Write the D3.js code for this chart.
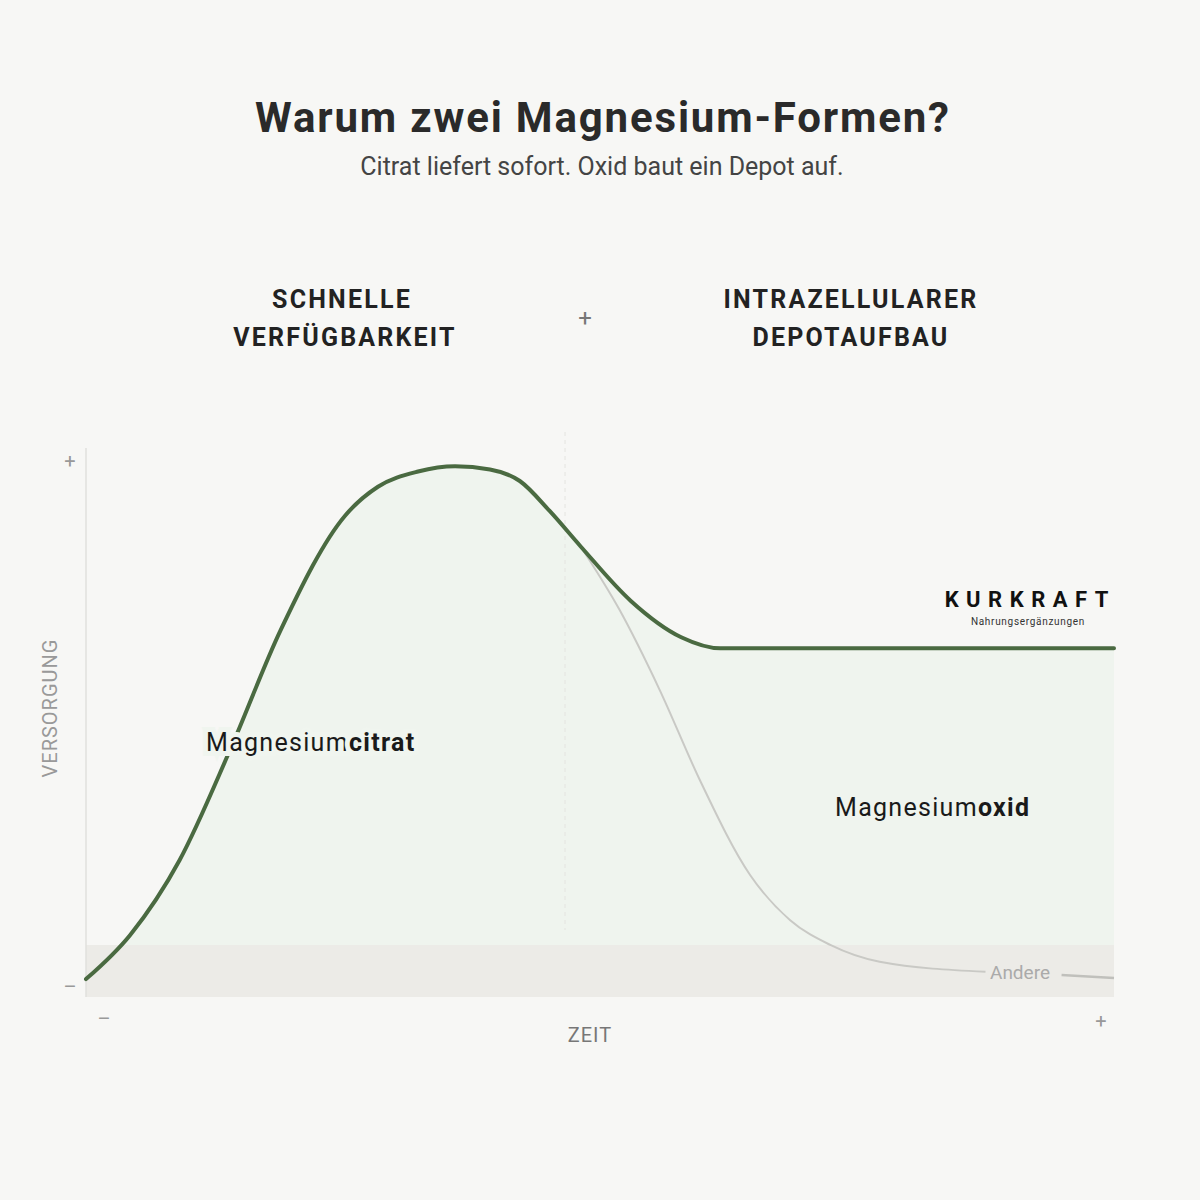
<!DOCTYPE html>
<html><head><meta charset="utf-8">
<script src="https://cdn.jsdelivr.net/npm/d3@7"></script>
<style>body{margin:0;background:#f7f7f5}svg{display:block}text{font-family:Roboto,"DejaVu Sans",sans-serif}</style>
</head><body><svg id="c" width="1200" height="1200"></svg>
<script>
const citratX = [0,4.3,9.1,14,18.9,25.2,28.4,32.3,35.9,39.3,42.2,45.1,48.1,53,57.9,61.7,100];
const citratY = [1.5,9.9,24.1,45,67.7,89.6,95.1,98,99,98.4,96.2,90.5,83.8,73.4,66.5,64.4,64.4];
const andereX = [48.1,51.9,55.8,59.7,64.6,68.5,72.4,77.2,87.5];
const andereY = [83.8,71.7,56.5,39.4,21.3,12.7,8,4.8,2.9];
const andereTailX = [94.9,100];
const andereTailY = [2.3,1.7];
const yTicks = ["–","+"];
const xTicks = ["–","+"];

const svg = d3.select("#c");
svg.append("rect").attr("width",1200).attr("height",1200).attr("fill","#f7f7f5");
const x = d3.scaleLinear().domain([0,100]).range([86,1114]);
const y = d3.scaleLinear().domain([0,100]).range([987,461]);
const ptsC = citratX.map((v,i)=>[v,citratY[i]]);
const ptsA = andereX.map((v,i)=>[v,andereY[i]]);
const ptsT = andereTailX.map((v,i)=>[v,andereTailY[i]]);
const curve = d3.curveMonotoneX;

svg.append("path").datum(ptsC)
 .attr("d",d3.area().x(d=>x(d[0])).y0(997).y1(d=>y(d[1])).curve(curve))
 .attr("fill","#eff4ee");
svg.append("rect").attr("x",86).attr("y",945).attr("width",1028).attr("height",52).attr("fill","#ecebe7");
svg.append("line").attr("x1",86).attr("x2",86).attr("y1",448).attr("y2",997).attr("stroke","#e0e0dc").attr("stroke-width",1.5);
svg.append("line").attr("x1",565).attr("x2",565).attr("y1",432).attr("y2",930).attr("stroke","#e4e4e0").attr("stroke-dasharray","4,4");

const line = d3.line().x(d=>x(d[0])).y(d=>y(d[1])).curve(curve);
svg.append("path").datum(ptsA).attr("d",line).attr("fill","none").attr("stroke","#c9c9c5").attr("stroke-width",2);
svg.append("path").datum(ptsT).attr("d",line).attr("fill","none").attr("stroke","#c0c0bc").attr("stroke-width",2.5);
svg.append("path").datum(ptsC).attr("d",line).attr("fill","none").attr("stroke","#4a6a41").attr("stroke-width",4).attr("stroke-linecap","round");

// titles
svg.append("text").attr("x",602).attr("y",132).attr("text-anchor","middle").attr("font-size",42).attr("font-weight",700).attr("fill","#2a2a2a").attr("textLength",694).text("Warum zwei Magnesium-Formen?");
svg.append("text").attr("x",602).attr("y",175).attr("text-anchor","middle").attr("font-size",25).attr("fill","#444").text("Citrat liefert sofort. Oxid baut ein Depot auf.");
const head=(t,xx,yy)=>svg.append("text").attr("x",xx).attr("y",yy).attr("text-anchor","middle").attr("font-size",25).attr("font-weight",700).attr("letter-spacing",2.2).attr("fill","#222").text(t);
head("SCHNELLE",342,308);head("VERFÜGBARKEIT",345,346);
head("INTRAZELLULARER",851,308);head("DEPOTAUFBAU",851,346);
svg.append("text").attr("x",585).attr("y",326).attr("text-anchor","middle").attr("font-size",24).attr("fill","#777").text("+");

// labels with halo
const lab=(xx,yy,a,b,halo)=>{const t=svg.append("text").attr("x",xx).attr("y",yy).attr("font-size",25).attr("fill","#1a1a1a").attr("letter-spacing",1.3)
 .attr("stroke",halo).attr("stroke-width",halo?10:0).attr("paint-order","stroke");
 t.append("tspan").text(a);t.append("tspan").attr("font-weight",700).text(b);};
lab(206,751,"Magnesium","citrat","#f0f5ef");
lab(835,816,"Magnesium","oxid",null);
svg.append("text").attr("x",1020).attr("y",979).attr("text-anchor","middle").attr("font-size",19).attr("fill","#aaa").text("Andere");

// logo
svg.append("text").attr("x",1116).attr("y",607).attr("text-anchor","end").attr("font-size",22).attr("font-weight",700).attr("letter-spacing",7.5).attr("fill","#111").text("KURKRAFT");
svg.append("text").attr("x",1028).attr("y",625).attr("text-anchor","middle").attr("font-size",10).attr("letter-spacing",0.7).attr("fill","#333").text("Nahrungsergänzungen");

// axes ticks
svg.append("text").attr("x",70).attr("y",468).attr("text-anchor","middle").attr("font-size",20).attr("fill","#999").text(yTicks[1]);
svg.append("text").attr("x",70).attr("y",994).attr("text-anchor","middle").attr("font-size",20).attr("fill","#999").text(yTicks[0]);
svg.append("text").attr("x",104).attr("y",1026).attr("text-anchor","middle").attr("font-size",20).attr("fill","#999").text(xTicks[0]);
svg.append("text").attr("x",1101).attr("y",1028).attr("text-anchor","middle").attr("font-size",20).attr("fill","#999").text(xTicks[1]);
svg.append("text").attr("x",590).attr("y",1042).attr("text-anchor","middle").attr("font-size",20).attr("letter-spacing",1).attr("fill","#777").text("ZEIT");
svg.append("text").attr("transform","translate(57,708) rotate(-90)").attr("text-anchor","middle").attr("font-size",20).attr("letter-spacing",1).attr("fill","#999").text("VERSORGUNG");
</script></body></html>
